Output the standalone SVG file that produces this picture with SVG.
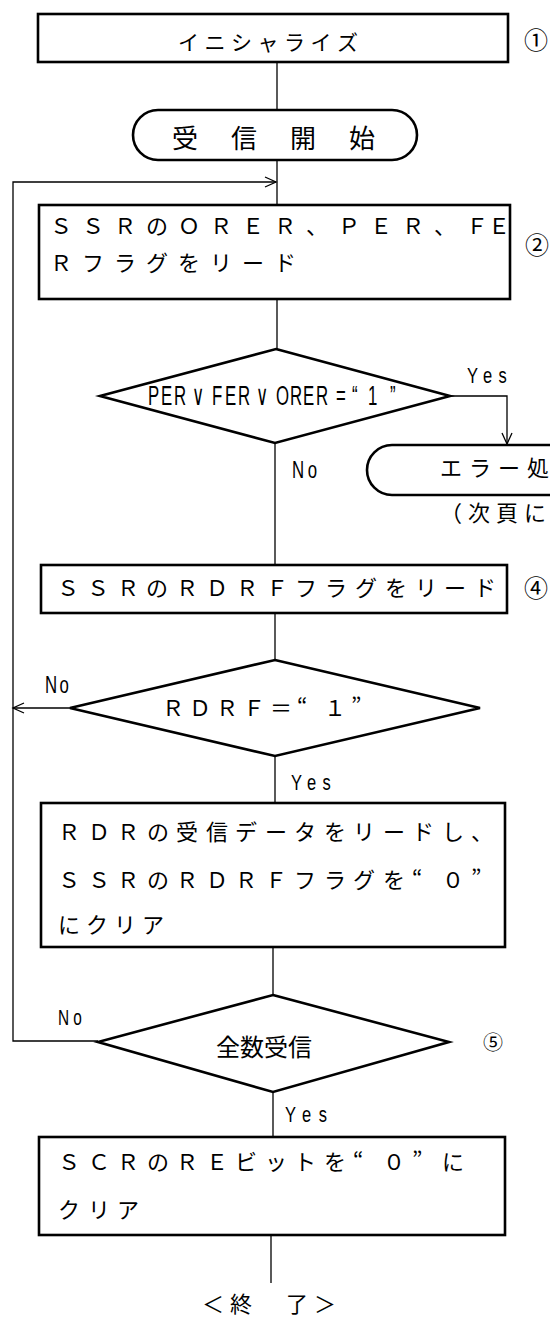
<svg xmlns="http://www.w3.org/2000/svg" width="550" height="1320" viewBox="0 0 550 1320" lang="ja">
<style>
.box{fill:#fff;stroke:#000;stroke-width:2.6}
.conn{fill:none;stroke:#000;stroke-width:1.3}
.jp{font-family:"Noto Sans CJK JP","Noto Sans CJK SC",sans-serif;fill:#000}
.lbl{font-family:"Liberation Sans","DejaVu Sans",sans-serif;fill:#000}
</style>
<defs>
<marker id="arr" markerWidth="14" markerHeight="14" refX="12" refY="6" orient="auto" markerUnits="userSpaceOnUse">
<path d="M1,1 L12,6 L1,11" fill="none" stroke="#000" stroke-width="1.3"/>
</marker>
</defs>
<rect width="550" height="1320" fill="#fff"/>

<g id="connectors">
<path class="conn" d="M277,62 V110"/>
<path class="conn" d="M277,160 V205"/>
<path class="conn" d="M277,299 V349"/>
<path class="conn" d="M275,443 V565"/>
<path class="conn" d="M275,613 V660"/>
<path class="conn" d="M275,756 V803"/>
<path class="conn" d="M273,947 V995"/>
<path class="conn" d="M273,1092 V1137"/>
<path class="conn" d="M271,1235 V1283"/>
<path class="conn" d="M450,396 H507 V444" marker-end="url(#arr)"/>
<path class="conn" d="M70,708 H13" marker-end="url(#arr)"/>
<path class="conn" d="M98,1041 H13 V182 H276" marker-end="url(#arr)"/>
<text class="lbl" transform="translate(467,383) scale(0.75,1)" font-size="22" textLength="53" lengthAdjust="spacing">Yes</text>
<text class="lbl" transform="translate(292,478) scale(0.7,1)" font-size="24" textLength="36" lengthAdjust="spacing">No</text>
<text class="lbl" transform="translate(45,693) scale(0.7,1)" font-size="24" textLength="34" lengthAdjust="spacing">No</text>
<text class="lbl" transform="translate(291,790) scale(0.75,1)" font-size="22" textLength="53" lengthAdjust="spacing">Yes</text>
<text class="lbl" transform="translate(58,1025) scale(0.7,1)" font-size="22" textLength="34" lengthAdjust="spacing">No</text>
<text class="lbl" transform="translate(285,1122) scale(0.75,1)" font-size="22" textLength="56" lengthAdjust="spacing">Yes</text>
</g>

<g id="n1-init">
<rect class="box" x="38" y="14" width="470" height="48"/>
<text class="jp" font-size="21" y="50" x="178 204.5 231 257.5 284 310.5 337">イニシャライズ</text>
<text class="jp" font-size="24" x="524" y="49">①</text>
</g>

<g id="n2-start">
<rect class="box" x="133" y="110" width="284" height="50" rx="25" ry="25"/>
<text class="jp" font-size="26" y="148" x="172 231 290 349">受信開始</text>
</g>

<g id="n3-read-errors">
<rect class="box" x="39" y="205" width="471" height="94"/>
<text class="jp" font-size="22" y="234" x="50 82 114 146 178 210 242 274 306 338 370 402 434 466">ＳＳＲのＯＲＥＲ、ＰＥＲ、ＦＥ</text>
<text class="jp" font-size="22" y="271" x="50 82 114 146 178 210 242 274">Ｒフラグをリード</text>
<text class="jp" font-size="24" x="525" y="254">②</text>
</g>

<g id="n4-error-check">
<polygon class="box" points="276,349 450,396 275,443 100,396"/>
<text class="lbl" transform="scale(0.6,1)" font-size="28" y="405" x="246.7 268.3 290 320 353.3 375 396.7 426.7 460 483.3 505 526.7 560 586.7 613.3 650">PER∨FER∨ORER=“1”</text>
</g>

<g id="n5-error-handling">
<path class="box" d="M560,445 H392 A25,25 0 0 0 392,495 H560"/>
<text class="jp" font-size="22" y="476" x="440 469 498 527">エラー処</text>
<text class="jp" font-size="22" y="521" x="440 468 496 524">（次頁に</text>
</g>

<g id="n6-read-rdrf">
<rect class="box" x="41" y="565" width="466" height="48"/>
<text class="jp" font-size="22" y="596" x="57 87 117 146 176 206 236 266 295 325 355 385 415 444 474">ＳＳＲのＲＤＲＦフラグをリード</text>
<text class="jp" font-size="24" x="524" y="597">④</text>
</g>

<g id="n7-rdrf-check">
<polygon class="box" points="275,660 480,708 275,756 70,708"/>
<text class="jp" font-size="22" y="716" x="162 189 216 243 270 297 324 351">ＲＤＲＦ＝“１”</text>
</g>

<g id="n8-read-data">
<rect class="box" x="41" y="803" width="464" height="144"/>
<text class="jp" font-size="22" y="840" x="58 88 117 147 176 206 235 265 294 324 353 383 412 442 471">ＲＤＲの受信データをリードし、</text>
<text class="jp" font-size="22" y="888" x="58 88 117 147 176 206 235 265 294 324 353 383 412 442 471">ＳＳＲのＲＤＲＦフラグを“０”</text>
<text class="jp" font-size="22" y="933" x="58 86 114 142">にクリア</text>
</g>

<g id="n9-all-received">
<polygon class="box" points="273,995 449,1042 273,1092 98,1042"/>
<text class="jp" font-size="24" y="1056" x="216 240 264 288">全数受信</text>
<text class="jp" font-size="20" x="483" y="1050">⑤</text>
</g>

<g id="n10-clear-re">
<rect class="box" x="39" y="1137" width="466" height="98"/>
<text class="jp" font-size="22" y="1170" x="58 88 117 147 176 206 235 265 294 324 353 383 412 442">ＳＣＲのＲＥビットを“０”に</text>
<text class="jp" font-size="22" y="1218" x="58 88 117">クリア</text>
</g>

<g id="n11-end">
<text class="jp" font-size="22" y="1312" x="202 230 258 286 314">＜終　了＞</text>
</g>
</svg>
